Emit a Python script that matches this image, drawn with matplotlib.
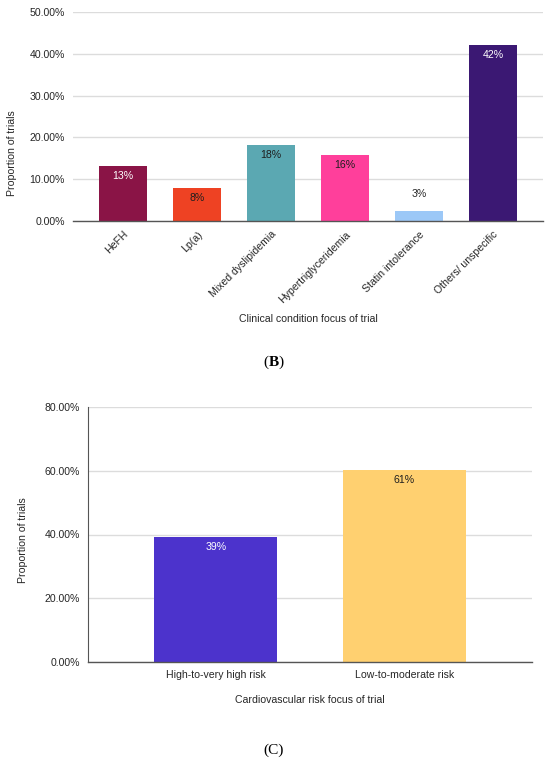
#!/usr/bin/env python3
"""
Proportion of trials by clinical condition (B) and by cardiovascular risk (C).
Two stacked bar charts in a Google-Sheets-like look.
"""

import matplotlib
matplotlib.use("Agg")
import matplotlib.pyplot as plt
from matplotlib.ticker import FuncFormatter

# =============================================================================
# Data
# =============================================================================

COND_LABELS = ["HeFH", "Lp(a)", "Mixed dyslipidemia", "Hypertriglyceridemia",
               "Statin intolerance", "Others/ unspecific"]
COND_VALUES = [13.2, 7.8, 18.3, 15.7, 2.5, 42.0]
COND_TEXT = ["13%", "8%", "18%", "16%", "3%", "42%"]

RISK_LABELS = ["High-to-very high risk", "Low-to-moderate risk"]
RISK_VALUES = [39.3, 60.3]
RISK_TEXT = ["39%", "61%"]

B_TICKS = [0, 10, 20, 30, 40, 50]
C_TICKS = [0, 20, 40, 60, 80]

# =============================================================================
# Style
# =============================================================================

COND_COLORS = ["#8a1446", "#ee4223", "#5ba8b2", "#ff3f9b", "#9cc8f7", "#3b1873"]
COND_TXTCOL = ["white", "#1e1e1e", "#1e1e1e", "#1e1e1e", "#1e1e1e", "white"]
RISK_COLORS = ["#4c33cc", "#ffd070"]
RISK_TXTCOL = ["white", "#1e1e1e"]

plt.rcParams['font.family'] = ['Liberation Sans', 'DejaVu Sans']
plt.rcParams['mathtext.fontset'] = 'custom'
plt.rcParams['mathtext.rm'] = 'Liberation Serif'
plt.rcParams['mathtext.bf'] = 'Liberation Serif:bold'

FONT = 7.6
TEXT_COL = "#262626"
GRID_COL = "#dcdcdc"
AXIS_COL = "#555555"

W, H = 550, 764
fig = plt.figure(figsize=(W / 100, H / 100), dpi=100)


def px_axes(left, top, right, bottom):
    return fig.add_axes([left / W, 1 - bottom / H, (right - left) / W, (bottom - top) / H])


pct = FuncFormatter(lambda v, _: f"{v:.2f}%")


def style_axes(ax, ticks, left_spine):
    ax.set_ylim(ticks[0], ticks[-1])
    ax.set_yticks(ticks)
    ax.yaxis.set_major_formatter(pct)
    ax.grid(True, axis='y', color=GRID_COL, linewidth=1.0)
    ax.set_axisbelow(True)
    for s in ['top', 'right']:
        ax.spines[s].set_visible(False)
    ax.spines['left'].set_visible(left_spine)
    ax.spines['left'].set_color(AXIS_COL)
    ax.spines['bottom'].set_color(AXIS_COL)
    ax.spines['bottom'].set_linewidth(1.0)
    ax.spines['bottom'].set_zorder(3)
    ax.tick_params(axis='both', length=0, labelsize=FONT, labelcolor=TEXT_COL)
    ax.tick_params(axis='y', pad=6)


# -----------------------------------------------------------------------------
# Panel B
# -----------------------------------------------------------------------------
axb = px_axes(73, 12, 543, 221)
xb = range(len(COND_VALUES))
axb.bar(xb, COND_VALUES, width=0.65, color=COND_COLORS, zorder=2)
axb.set_xlim(-0.676, len(COND_VALUES) - 1 + 0.676)
style_axes(axb, B_TICKS, left_spine=False)
axb.set_xticks(list(xb))
axb.set_xticklabels(COND_LABELS, rotation=45, ha='right', rotation_mode='anchor')
axb.tick_params(axis='x', pad=6)

for i, (v, t) in enumerate(zip(COND_VALUES, COND_TEXT)):
    if v < 5:
        axb.annotate(t, (i, v), xytext=(0, 12), textcoords='offset pixels',
                     ha='center', va='bottom', fontsize=FONT, color=TEXT_COL)
    else:
        axb.annotate(t, (i, v), xytext=(0, -5), textcoords='offset pixels',
                     ha='center', va='top', fontsize=FONT, color=COND_TXTCOL[i])

fig.text(12 / W, 1 - 153 / H, "Proportion of trials", rotation=90,
         ha='center', va='center', fontsize=FONT, color=TEXT_COL)
fig.text(308 / W, 1 - 319 / H, "Clinical condition focus of trial",
         ha='center', va='center', fontsize=FONT, color=TEXT_COL)
fig.text(274 / W, 1 - 362 / H, r"($\mathbf{B}$)", ha='center', va='center',
         fontsize=11, family='Liberation Serif', color='black')

# -----------------------------------------------------------------------------
# Panel C
# -----------------------------------------------------------------------------
axc = px_axes(88, 407, 532, 662)
xc = range(len(RISK_VALUES))
axc.bar(xc, RISK_VALUES, width=0.65, color=RISK_COLORS, zorder=2)
axc.set_xlim(-0.677, len(RISK_VALUES) - 1 + 0.677)
style_axes(axc, C_TICKS, left_spine=True)
axc.set_xticks(list(xc))
axc.set_xticklabels(RISK_LABELS)
axc.tick_params(axis='x', pad=6)

for i, (v, t) in enumerate(zip(RISK_VALUES, RISK_TEXT)):
    axc.annotate(t, (i, v), xytext=(0, -5), textcoords='offset pixels',
                 ha='center', va='top', fontsize=FONT, color=RISK_TXTCOL[i])

fig.text(23 / W, 1 - 540 / H, "Proportion of trials", rotation=90,
         ha='center', va='center', fontsize=FONT, color=TEXT_COL)
fig.text(310 / W, 1 - 700 / H, "Cardiovascular risk focus of trial",
         ha='center', va='center', fontsize=FONT, color=TEXT_COL)
fig.text(274 / W, 1 - 750 / H, "(C)", ha='center', va='center',
         fontsize=11, family='Liberation Serif', color='black')

fig.savefig("out.png", dpi=100, facecolor='white')
